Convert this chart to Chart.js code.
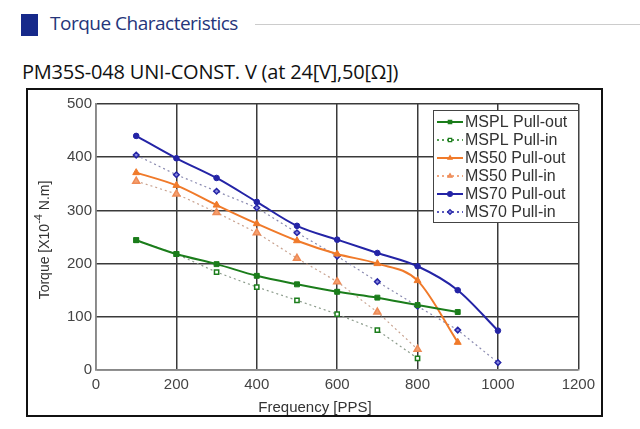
<!DOCTYPE html>
<html>
<head>
<meta charset="utf-8">
<script src="https://cdn.jsdelivr.net/npm/chart.js@4"></script>
<style>
  body { margin: 0; background: #fff; width: 640px; height: 429px; position: relative; overflow: hidden; }
  .mark { position: absolute; left: 21px; top: 14px; width: 17px; height: 22px; background: #16298a; }
  .head { position: absolute; left: 50px; top: 10px; font: 19px "Open Sans", sans-serif; color: #25357a; letter-spacing: -0.5px; }
  .rule { position: absolute; left: 255px; top: 24px; width: 385px; height: 1px; background: #ccc; }
  .sub { position: absolute; left: 22px; top: 58px; font: 20px "Open Sans", sans-serif; color: #111; white-space: nowrap; letter-spacing: -0.2px; }
  .frame { position: absolute; left: 26px; top: 88px; width: 577px; height: 329px; border: 2px solid #111; box-sizing: border-box; }
  .frame canvas { display: block; }
</style>
</head>
<body>
<div class="mark"></div>
<div class="head">Torque Characteristics</div>
<div class="rule"></div>
<div class="sub">PM35S-048 UNI-CONST. V (at 24[V],50[Ω])</div>
<div class="frame"><canvas id="torqueChart" width="573" height="325"></canvas></div>

<script>
// ---- data ----
const freq = [100, 200, 300, 400, 500, 600, 700, 800, 900, 1000];
const msplOut = [244, 218, 199, 177, 161, 147, 136, 122, 109, null];
const msplIn  = [244, 218, 184, 156, 131, 105, 75, 22, null, null];
const ms50Out = [371, 347, 310, 275, 243, 218, 200, 168, 52, null];
const ms50In  = [355, 331, 296, 258, 210, 166, 109, 39, null, null];
const ms70Out = [440, 398, 361, 316, 271, 245, 220, 195, 150, 74];
const ms70In  = [404, 367, 336, 305, 258, 214, 166, 120, 75, 14];
const xTicks = [0, 200, 400, 600, 800, 1000, 1200];
const yTicks = [0, 100, 200, 300, 400, 500];

const GREEN = '#1b7d1b';
const ORANGE = '#f07a2a';
const BLUE = '#2424a6';

function pts(values) {
  return freq.map((f, i) => ({ x: f, y: values[i] })).filter(p => p.y !== null);
}

function solid(label, values, color, style, radius) {
  return {
    label, data: pts(values),
    borderColor: color, backgroundColor: color, borderWidth: 2,
    pointStyle: style, pointRadius: radius, pointBorderWidth: 1,
    pointBackgroundColor: color, pointBorderColor: color,
    cubicInterpolationMode: 'monotone'
  };
}

function dotted(label, values, color, lineColor, style, radius, fill) {
  return {
    label, data: pts(values),
    borderColor: lineColor, borderWidth: 1.2, borderDash: [2, 3],
    pointStyle: style, pointRadius: radius, pointBorderWidth: 1.5,
    pointBackgroundColor: fill, pointBorderColor: color,
    tension: 0
  };
}

const datasets = [
  solid('MSPL Pull-out', msplOut, GREEN, 'rect', 3.5),
  dotted('MSPL Pull-in', msplIn, GREEN, '#8a9a8a', 'rect', 3, '#ffffff'),
  solid('MS50 Pull-out', ms50Out, ORANGE, 'triangle', 4),
  dotted('MS50 Pull-in', ms50In, '#ee8a55', '#c9a390', 'triangle', 4, '#f4a070'),
  solid('MS70 Pull-out', ms70Out, BLUE, 'circle', 2.8),
  dotted('MS70 Pull-in', ms70In, BLUE, '#8a8ab0', 'rectRot', 2.8, '#8a8ae0')
];

const FONT = '"Liberation Sans", Arial, sans-serif';

// ---- legend box + axis titles drawn by hand ----
const extras = {
  id: 'extras',
  afterDraw(chart) {
    const c = chart.ctx;
    // y axis title with superscript
    c.save();
    c.translate(17, 150);
    c.rotate(-Math.PI / 2);
    c.fillStyle = '#333';
    c.textBaseline = 'middle';
    const a = 'Torque [X10', b = '-4', d = ' N.m]';
    c.font = '14px ' + FONT;
    const wa = c.measureText(a).width, wd = c.measureText(d).width;
    c.font = '11px ' + FONT;
    const wb = c.measureText(b).width;
    const x = -(wa + wb + wd) / 2;
    c.font = '14px ' + FONT;
    c.fillText(a, x, 0);
    c.font = '11px ' + FONT;
    c.fillText(b, x + wa, -6);
    c.font = '14px ' + FONT;
    c.fillText(d, x + wa + wb, 0);
    c.restore();

    // x axis title
    c.save();
    c.fillStyle = '#333';
    c.font = '15px ' + FONT;
    c.textAlign = 'center';
    c.textBaseline = 'middle';
    c.fillText('Frequency [PPS]', 287, 318);
    c.restore();

    // legend
    const lx = 405, ly = 20, lw = 145, lh = 112, row = 18;
    c.save();
    c.fillStyle = '#ffffff';
    c.fillRect(lx, ly, lw, lh);
    c.strokeStyle = '#444';
    c.lineWidth = 1;
    c.strokeRect(lx + 0.5, ly + 0.5, lw, lh);
    c.font = '16px ' + FONT;
    c.textBaseline = 'middle';
    chart.data.datasets.forEach((ds, i) => {
      const y = ly + 12 + i * row;
      c.save();
      c.strokeStyle = ds.borderDash ? ds.pointBorderColor : ds.borderColor;
      c.lineWidth = ds.borderDash ? 1.6 : 2;
      c.setLineDash(ds.borderDash ? [2, 3] : []);
      c.beginPath();
      c.moveTo(lx + 4, y);
      c.lineTo(lx + 30, y);
      c.stroke();
      c.restore();
      c.fillStyle = ds.pointBackgroundColor;
      c.strokeStyle = ds.pointBorderColor;
      c.lineWidth = 1.2;
      Chart.helpers.drawPoint(c, { pointStyle: ds.pointStyle, radius: 2.4, borderWidth: 1.2 }, lx + 17, y);
      c.fillStyle = '#333';
      c.fillText(ds.label, lx + 32, y + 1);
    });
    c.restore();
  }
};

new Chart(document.getElementById('torqueChart'), {
  type: 'line',
  data: { datasets },
  options: {
    responsive: false,
    animation: false,
    layout: { padding: { left: 0, right: 17, top: 14, bottom: 0 } },
    plugins: { legend: { display: false }, tooltip: { enabled: false } },
    scales: {
      x: {
        type: 'linear', min: 0, max: 1200,
        afterFit: s => { s.height = 45; },
        afterBuildTicks: s => { s.ticks = xTicks.map(v => ({ value: v })); },
        grid: { color: '#3a3a3a', lineWidth: 1.5, drawTicks: false },
        border: { color: '#888', width: 1.5 },
        ticks: { color: '#444', padding: 6, font: { family: FONT, size: 15 }, callback: v => String(v) }
      },
      y: {
        min: 0, max: 500,
        afterFit: s => { s.width = 68; },
        afterBuildTicks: s => { s.ticks = yTicks.map(v => ({ value: v })); },
        grid: { color: '#3a3a3a', lineWidth: 1.5, drawTicks: false },
        border: { color: '#888', width: 1.5 },
        ticks: { color: '#444', padding: 4, font: { family: FONT, size: 15 }, callback: v => String(v) }
      }
    }
  },
  plugins: [extras]
});
</script>
</body>
</html>
